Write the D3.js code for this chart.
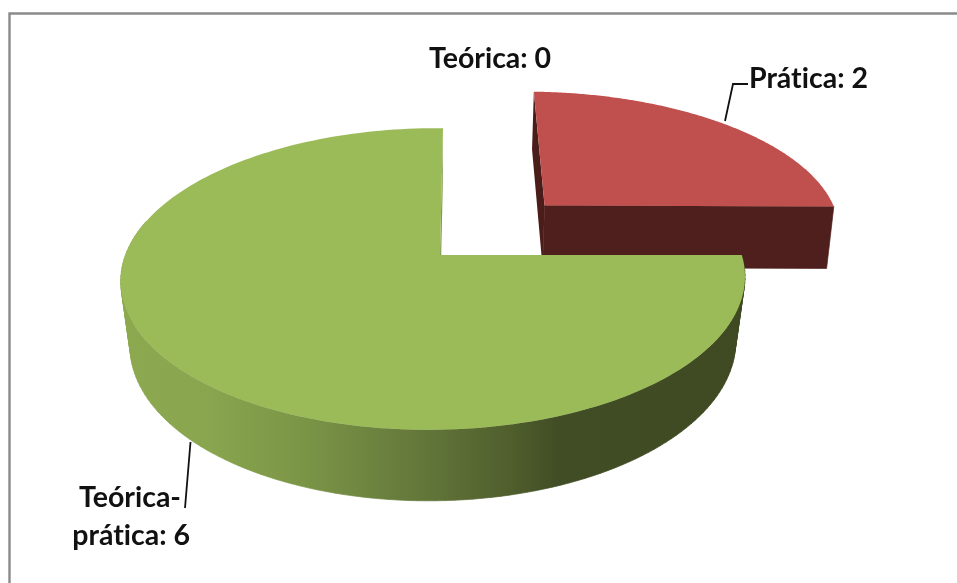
<!DOCTYPE html>
<html>
<head>
<meta charset="utf-8">
<script src="https://cdn.jsdelivr.net/npm/d3@7/dist/d3.min.js"></script>
<style>
html,body{margin:0;padding:0;background:#fff;overflow:hidden}
svg{display:block}
text{font-family:Lato,"Open Sans",sans-serif;font-weight:700;fill:#111;font-size:28.5px;font-variant-ligatures:none;filter:blur(0.35px)}
</style>
</head>
<body>
<svg id="c" width="957" height="583"></svg>
<script>
const categories = ["Teórica", "Prática", "Teórica-prática"];
const values = [0, 2, 6];
const topColors = ["#4f81bd", "#c0504d", "#9bbb59"];
const redWall = "#4f1f1d";
const redSide = "#4a1d1b";
const greenSide = "#7f9a48";
const explode = [0, 0.342, 0];
const narrowing = [0, 0.018, 0.03];

const W = 957, H = 583;
const svg = d3.select("#c");

// Frame
svg.append("path").attr("d", `M9.5,${H} V13.5 H${W}`)
  .attr("fill", "none").attr("stroke", "#8a8a8a").attr("stroke-width", 2.4);

// Perspective projection of the unit pie plane onto the page
const ax = 440, ay = 255, c = 308, s = 3.5, b = 147, k = 0.159, m = 0.0208;
function proj(u, v) {
  const w = 1 + k * v + m * u;
  return [ax + (c * u + s * v) / w, ay - b * v / w];
}
function drop([x, y], i) {
  return [x - narrowing[i] * (x - 433), y + 62 + 0.04 * (y - 205)];
}

const pie = d3.pie().sort(null).value(d => d);
const arcs = pie(values);
const line = d3.line();

function slice(i) {
  const a = arcs[i], d = explode[i];
  const n = 180;
  const ox = d * 1.045, oy = d * 1.05;
  const pts = d3.range(n + 1).map(j => {
    const t = a.startAngle + (a.endAngle - a.startAngle) * j / n;
    return [ox + Math.sin(t) * (i === 1 ? 1.027 : 1), oy + Math.cos(t)];
  });
  return { rim: pts.map(p => proj(p[0], p[1])), apex: proj(ox, oy) };
}

// Shaded outer wall of the large slice
const defs = svg.append("defs");
const grad = defs.append("linearGradient").attr("id", "gw")
  .attr("gradientUnits", "userSpaceOnUse")
  .attr("x1", 121).attr("x2", 746).attr("y1", 0).attr("y2", 0);
[[0, "#8ca950"], [0.14, "#89a54e"], [0.3, "#7a9446"], [0.48, "#63773a"],
 [0.62, "#505f2d"], [0.7, "#414d25"], [1, "#3f4a23"]].forEach(([o, col]) =>
  grad.append("stop").attr("offset", o).attr("stop-color", col));

// Red slice
const red = slice(1);
const rA = red.apex, rS = red.rim[0], rE = red.rim[red.rim.length - 1];
svg.append("path").attr("fill", redSide)
  .attr("d", line([rS, drop(rS, 1), drop(rA, 1), rA]) + "Z");
svg.append("path").attr("fill", redWall).attr("stroke", redWall).attr("stroke-width", 0.7)
  .attr("d", line([rA, rE, drop(rE, 1), drop(rA, 1)]) + "Z");
svg.append("path").attr("fill", topColors[1])
  .attr("d", line([rA, ...red.rim]) + "Z");

// Green slice
const green = slice(2);
const gA = green.apex;
const gEnd = green.rim[green.rim.length - 1];
svg.append("path").attr("fill", greenSide)
  .attr("d", line([gEnd, drop(gEnd, 2), drop(gA, 2), gA]) + "Z");
const lower = green.rim.slice(0, Math.round(green.rim.length * 0.72));
// Sweep the rim down to the lower rim, one quad per step, all wound alike
const wall = d3.pairs(lower).map(([p, q]) => {
  const quad = [p, q, drop(q, 2), drop(p, 2)];
  if (d3.polygonArea(quad) < 0) quad.reverse();
  return line(quad) + "Z";
}).join("");
svg.append("path").attr("fill", "url(#gw)").attr("stroke", "url(#gw)").attr("stroke-width", 0.7)
  .attr("d", wall);
svg.append("path").attr("fill", topColors[2])
  .attr("d", line([gA, ...green.rim]) + "Z");

// Leader lines
const leaders = [
  [[748, 84], [733, 84], [725, 121]],
  [[190.5, 442], [185, 508]]
];
leaders.forEach(l => svg.append("path").attr("d", line(l))
  .attr("fill", "none").attr("stroke", "#111").attr("stroke-width", 1.8));

// Labels
const labelText = categories.map((cat, i) => `${cat}: ${values[i]}`);
svg.append("text").attr("x", 429).attr("y", 68).text(labelText[0]);
svg.append("text").attr("x", 749).attr("y", 88).text(labelText[1]);
const wrapped = labelText[2].split("-");
svg.append("text").attr("x", 181).attr("y", 507).attr("text-anchor", "end").text(wrapped[0] + "-");
svg.append("text").attr("x", 190).attr("y", 545).attr("text-anchor", "end").text(wrapped[1]);
</script>
</body>
</html>
